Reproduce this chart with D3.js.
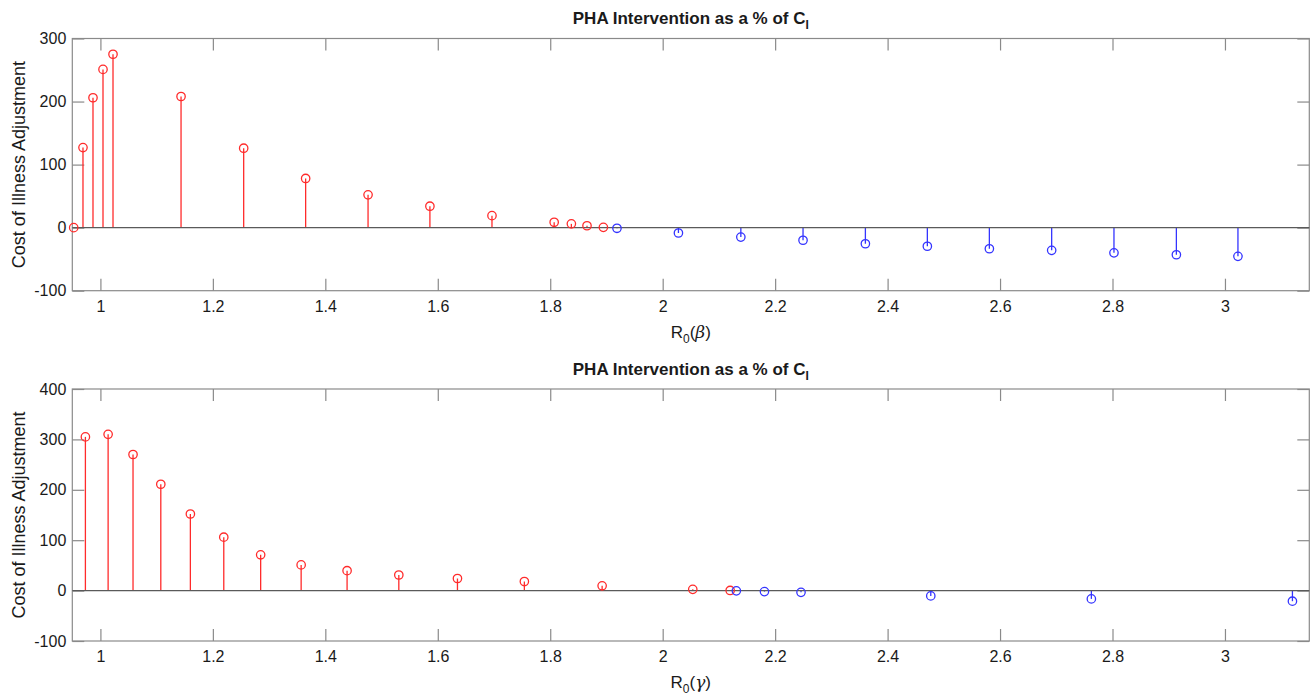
<!DOCTYPE html>
<html>
<head>
<meta charset="utf-8">
<script src="https://cdn.jsdelivr.net/npm/d3@7"></script>
<style>
  html, body { margin: 0; padding: 0; background: #fff; }
  svg { display: block; font-family: "Liberation Sans", Arial, Helvetica, sans-serif; }
</style>
</head>
<body>
<svg id="chart" width="1314" height="698"></svg>
<script>
// R0 varied through beta: positive adjustments (red) and negative (blue)
const betaPosR0 = [0.9525, 0.969, 0.9868, 1.0046, 1.0224, 1.1434, 1.2548, 1.365, 1.476, 1.586, 1.6964, 1.807, 1.8376, 1.8654, 1.8945];
const betaPosVal = [0, 127, 206, 251, 275, 208, 126, 78, 52, 34, 19, 8.5, 6, 3, 0.5];
const betaNegR0 = [1.9187, 2.028, 2.139, 2.2496, 2.3605, 2.4707, 2.581, 2.6918, 2.8026, 2.9136, 3.0231];
const betaNegVal = [-1, -8.5, -15, -20, -25.5, -29.5, -33.5, -36, -40, -43, -45.5];

// R0 varied through gamma
const gammaPosR0 = [0.9733, 1.0137, 1.058, 1.1074, 1.16, 1.2194, 1.285, 1.357, 1.4387, 1.5307, 1.635, 1.754, 1.8923, 2.0535, 2.12];
const gammaPosVal = [305, 310, 270, 211, 152, 106, 71, 51, 39.5, 31, 24, 18, 9.5, 2.5, 0.3];
const gammaNegR0 = [2.131, 2.181, 2.246, 2.4768, 2.7624, 3.12];
const gammaNegVal = [-0.5, -2, -3.5, -10.5, -16.5, -21];

// Axis ticks
const xTicks = [1, 1.2, 1.4, 1.6, 1.8, 2, 2.2, 2.4, 2.6, 2.8, 3];
const yTicksTop = [-100, 0, 100, 200, 300];
const yTicksBottom = [-100, 0, 100, 200, 300, 400];

const RED = "#ff2b2b";
const BLUE = "#3434ff";
const BOX = "#8a8a8a";
const TEXT = "#1a1a1a";

const svg = d3.select("#chart");
const left = 72.3, right = 1309.3;

function panel(opts) {
  const { top, bottom, yDomain, yTicks, series, greek } = opts;
  const g = svg.append("g");
  const x = d3.scaleLinear().domain([0.95, 3.15]).range([left, right]);
  const y = d3.scaleLinear().domain(yDomain).range([bottom, top]);
  const fmt = d => String(+d.toFixed(1));

  // box
  g.append("rect")
    .attr("x", left).attr("y", top)
    .attr("width", right - left).attr("height", bottom - top)
    .attr("fill", "none").attr("stroke", BOX).attr("stroke-width", 1.2);

  const styleAxis = (sel, showLabels) => {
    sel.select(".domain").remove();
    sel.selectAll(".tick line").attr("stroke", BOX).attr("stroke-width", 1.2);
    sel.selectAll(".tick text")
      .attr("fill", TEXT)
      .style("font-size", "16px")
      .style("display", showLabels ? null : "none");
  };

  g.append("g").attr("transform", `translate(0,${bottom})`)
    .call(d3.axisBottom(x).tickValues(xTicks).tickFormat(fmt).tickSizeInner(-12).tickSizeOuter(0).tickPadding(8))
    .call(s => styleAxis(s, true))
    .selectAll(".tick text").attr("dy", "0.71em").attr("y", 10);
  g.append("g").attr("transform", `translate(0,${top})`)
    .call(d3.axisTop(x).tickValues(xTicks).tickSizeInner(-12).tickSizeOuter(0))
    .call(s => styleAxis(s, false));
  g.append("g").attr("transform", `translate(${left},0)`)
    .call(d3.axisLeft(y).tickValues(yTicks).tickFormat(d => String(d)).tickSizeInner(-12).tickSizeOuter(0))
    .call(s => styleAxis(s, true))
    .selectAll(".tick text").attr("x", -6);
  g.append("g").attr("transform", `translate(${right},0)`)
    .call(d3.axisRight(y).tickValues(yTicks).tickSizeInner(-12).tickSizeOuter(0))
    .call(s => styleAxis(s, false));

  // stems
  series.forEach(s => {
    const pts = s.r0.map((r, i) => ({ r, v: s.val[i] }));
    g.append("g").selectAll("line").data(pts).join("line")
      .attr("x1", d => x(d.r)).attr("x2", d => x(d.r))
      .attr("y1", y(0)).attr("y2", d => y(d.v))
      .attr("stroke", s.color).attr("stroke-width", 1.3);
  });

  // baseline
  g.append("line")
    .attr("x1", left).attr("x2", right)
    .attr("y1", y(0)).attr("y2", y(0))
    .attr("stroke", "#5a5a5a").attr("stroke-width", 1.3);

  // markers
  series.forEach(s => {
    const pts = s.r0.map((r, i) => ({ r, v: s.val[i] }));
    g.append("g").selectAll("circle").data(pts).join("circle")
      .attr("cx", d => x(d.r)).attr("cy", d => y(d.v)).attr("r", 4.2)
      .attr("fill", "none").attr("stroke", s.color).attr("stroke-width", 1.3);
  });

  // title
  const t = g.append("text")
    .attr("x", (left + right) / 2).attr("y", top - 14.5)
    .attr("text-anchor", "middle")
    .attr("fill", TEXT)
    .style("font-size", "17px").style("font-weight", "bold");
  t.append("tspan").text("PHA Intervention as a % of C");
  t.append("tspan").text("I").attr("dy", 5).style("font-size", "12px");

  // x label
  const xl = g.append("text")
    .attr("x", (left + right) / 2).attr("y", bottom + 47)
    .attr("text-anchor", "middle").attr("fill", TEXT)
    .style("font-size", "17px");
  xl.append("tspan").text("R");
  xl.append("tspan").text("0").attr("dy", 5).style("font-size", "12px");
  xl.append("tspan").text("(").attr("dy", -5);
  xl.append("tspan").text(greek).style("font-style", "italic").style("font-family", "'DejaVu Serif', serif");
  xl.append("tspan").text(")");

  // y label
  g.append("text")
    .attr("transform", `translate(25,${(top + bottom) / 2}) rotate(-90)`)
    .attr("text-anchor", "middle").attr("fill", TEXT)
    .style("font-size", "18px")
    .text("Cost of Illness Adjustment");
}

panel({
  top: 38.5, bottom: 290.7, yDomain: [-100, 300], yTicks: yTicksTop, greek: "β",
  series: [
    { r0: betaPosR0, val: betaPosVal, color: RED },
    { r0: betaNegR0, val: betaNegVal, color: BLUE }
  ]
});
panel({
  top: 389, bottom: 641, yDomain: [-100, 400], yTicks: yTicksBottom, greek: "γ",
  series: [
    { r0: gammaPosR0, val: gammaPosVal, color: RED },
    { r0: gammaNegR0, val: gammaNegVal, color: BLUE }
  ]
});
</script>
</body>
</html>
